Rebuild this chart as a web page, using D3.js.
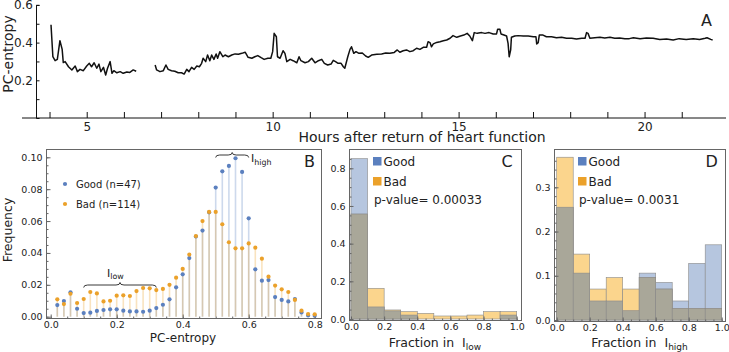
<!DOCTYPE html>
<html>
<head>
<meta charset="utf-8">
<script src="https://cdn.jsdelivr.net/npm/d3@7"></script>
<style>
  body { margin: 0; background: #fff; }
  text { font-family: "DejaVu Sans", sans-serif; fill: #222; }
</style>
</head>
<body>
<svg id="chart" width="729" height="352"></svg>
<script>

// ---- panel A : PC-entropy over time (null = gap in recording)
var hoursA = [4.04,4.09,4.15,4.21,4.28,4.34,4.37,4.42,4.51,4.60,4.69,4.75,4.82,4.91,5.00,5.07,5.13,5.20,5.27,5.33,
  5.38,5.45,5.51,5.56,5.63,5.68,5.73,5.81,5.90,5.98,6.08,6.16,6.25,6.33,6.55,
  6.84,6.88,6.97,7.06,7.13,7.19,7.28,7.37,7.46,7.55,7.62,7.69,7.75,7.82,7.89,7.96,8.03,8.09,8.13,8.20,8.25,8.31,
  8.36,8.42,8.48,8.52,8.58,8.66,8.72,8.81,8.90,8.99,9.08,9.17,9.26,9.34,9.44,9.52,9.60,9.69,9.77,9.87,9.95,
  10.00,10.04,10.10,10.13,10.20,10.28,10.33,10.38,10.47,10.55,10.65,10.71,10.76,10.87,10.96,11.05,11.14,11.23,
  11.32,11.39,11.48,11.57,11.63,11.69,11.76,11.84,11.90,11.94,12.02,12.08,12.12,12.18,12.24,12.32,12.41,12.50,
  12.57,12.66,12.80,12.93,13.04,13.15,13.27,13.35,13.42,13.51,13.60,13.69,13.78,13.87,13.96,14.05,14.14,14.18,
  14.23,14.27,14.32,14.41,14.50,14.59,14.68,14.77,14.85,14.95,15.05,15.14,15.23,15.30,15.37,15.42,15.50,15.62,
  15.71,15.82,15.93,16.02,16.05,16.11,16.14,16.22,16.29,16.33,16.36,16.40,16.42,16.51,16.60,16.74,16.87,17.01,
  17.08,17.10,17.14,17.17,17.27,17.36,17.50,17.63,17.77,17.90,18.04,18.17,18.31,18.40,18.44,18.48,18.53,18.66,
  18.80,18.93,19.07,19.20,19.33,19.47,19.59,19.70,19.88,20.05,20.23,20.41,20.59,20.77,20.93,21.12,21.31,21.48,
  21.63,21.68,21.78,21.83];
var entropyA = [0.495,0.325,0.304,0.311,0.410,0.364,0.294,0.299,0.272,0.255,0.276,0.246,0.258,0.251,0.276,0.290,0.272,0.293,0.264,0.286,
  0.246,0.269,0.228,0.264,0.299,0.237,0.251,0.240,0.246,0.237,0.244,0.242,0.255,0.248,null,
  0.281,0.255,0.246,0.251,0.281,0.258,0.251,0.248,0.240,0.240,0.233,0.258,0.246,0.269,0.258,0.276,0.272,0.290,0.317,0.299,0.334,0.304,
  0.334,0.311,0.340,0.317,0.352,0.325,0.334,0.325,0.334,0.340,0.338,0.343,0.349,0.322,0.317,0.325,0.331,0.320,0.311,0.317,0.317,
  0.352,0.449,0.431,0.325,0.317,0.357,0.343,0.299,0.311,0.304,0.293,0.325,0.304,0.293,0.299,0.317,0.293,0.304,
  0.311,0.290,0.281,0.286,0.306,0.299,0.290,0.290,0.272,0.264,0.325,0.364,0.378,0.343,0.352,0.343,0.345,0.329,
  0.322,0.334,0.338,0.340,0.345,0.343,0.348,0.361,0.349,0.357,0.361,0.352,0.357,0.370,0.364,0.375,0.375,0.405,
  0.400,0.378,0.393,0.401,0.405,0.410,0.414,0.423,0.437,0.428,0.435,0.440,0.449,0.435,0.410,0.453,0.449,0.453,
  0.449,0.453,0.446,0.446,0.471,0.471,0.446,0.440,0.435,0.396,0.325,0.361,0.428,0.435,0.437,0.435,0.435,0.431,
  0.431,0.393,0.400,0.440,0.440,0.431,0.431,0.426,0.428,0.423,0.423,0.419,0.423,0.423,0.453,0.449,0.423,0.426,
  0.428,0.425,0.428,0.423,0.425,0.421,0.421,0.426,0.421,0.425,0.423,0.417,0.419,0.414,0.421,0.417,0.421,0.417,
  0.423,0.426,0.417,0.414];
var hourTicks = [4,5,6,7,8,9,10,11,12,13,14,15,16,17,18,19,20,21];
var hourLabels = [5,10,15,20];
var entropyTicks = [0.1,0.2,0.3,0.4,0.5,0.6];
var entropyLabels = [0.2,0.4,0.6];

// ---- panel B : frequency of PC-entropy values
var entropyBins = [0.02,0.04,0.06,0.08,0.10,0.12,0.14,0.16,0.18,0.20,0.22,0.24,0.26,0.28,0.30,0.32,0.34,0.36,0.38,0.40,
  0.42,0.44,0.46,0.48,0.50,0.52,0.54,0.56,0.58,0.60,0.62,0.64,0.66,0.68,0.70,0.72,0.74,0.76,0.78,0.80];
var goodFreq = [0.0073,0.0098,0.0153,0.0050,0.0023,0.0025,0.0036,0.0042,0.0046,0.0046,0.0038,0.0033,0.0033,0.0031,0.0038,0.0054,
  0.0075,0.0109,0.0184,0.0266,0.0368,0.0503,0.0540,0.0655,0.0810,0.0912,0.0946,0.0994,0.0908,0.0617,0.0297,0.0226,
  0.0230,0.0123,0.0105,0.0096,0.0111,0.0027,0.0008,0.0006];
var badFreq = [0.0109,0.0079,0.0144,0.0086,0.0111,0.0155,0.0146,0.0096,0.0100,0.0132,0.0134,0.0130,0.0161,0.0180,0.0178,0.0167,
  0.0174,0.0200,0.0245,0.0300,0.0390,0.0506,0.0600,0.0657,0.0657,0.0580,0.0467,0.0429,0.0429,0.0460,0.0433,0.0364,
  0.0251,0.0195,0.0172,0.0155,0.0105,0.0038,0.0017,0.0015];
var seriesNames = ["Good (n=47)", "Bad (n=114)"];

// ---- panels C, D : histograms of fraction of time in I_low / I_high
var fractionBins = [0.0,0.1,0.2,0.3,0.4,0.5,0.6,0.7,0.8,0.9];
var goodLow  = [0.851,0.064,0.043,0.021,0,0,0,0,0,0.021];
var badLow   = [0.557,0.163,0.048,0.039,0.030,0.016,0.016,0.021,0.039,0.039];
var goodHigh = [0.255,0.106,0.043,0.043,0.021,0.106,0.085,0.043,0.128,0.170];
var badHigh  = [0.368,0.149,0.070,0.096,0.070,0.096,0.070,0.026,0.026,0.026];

var blue = "#5b80bf", orange = "#eba12a";
var svg = d3.select("#chart");

// =================== panel A
var xA = d3.scaleLinear().domain([3.26, 22.19]).range([22, 726]);
var yA = d3.scaleLinear().domain([0, 0.6]).range([118, 4.9]);
var gA = svg.append("g");

gA.append("g")
  .attr("transform", "translate(0,118)")
  .call(d3.axisBottom(xA).tickValues(hourTicks).tickSize(-6).tickPadding(4)
    .tickFormat(d => hourLabels.includes(d) ? d : ""))
  .call(g => g.selectAll("text").style("font-size", "12px").style("font-family", "DejaVu Sans"))
  .call(g => g.selectAll("line,path").attr("stroke", "#111"));
gA.select("path.domain").attr("d", "M22,0H726");

gA.append("g")
  .attr("transform", "translate(36,0)")
  .call(d3.axisLeft(yA).tickValues(entropyTicks).tickSize(-3.5).tickPadding(3)
    .tickFormat(d => entropyLabels.some(v => Math.abs(v - d) < 1e-9) ? d3.format(".1f")(d) : ""))
  .call(g => g.selectAll("text").style("font-size", "12px").style("font-family", "DejaVu Sans"))
  .call(g => g.selectAll("line,path").attr("stroke", "#111"));

var lineA = d3.line()
  .defined(d => d[1] !== null)
  .x(d => xA(d[0]))
  .y(d => yA(d[1]));
gA.append("path")
  .datum(hoursA.map((h, i) => [h, entropyA[i]]))
  .attr("d", lineA)
  .attr("fill", "none")
  .attr("stroke", "#111")
  .attr("stroke-width", 1.5)
  .attr("stroke-linejoin", "round");

gA.append("text").attr("x", 422).attr("y", 142).attr("text-anchor", "middle")
  .style("font-size", "14px").text("Hours after return of heart function");
gA.append("text").attr("transform", "translate(12.5,54) rotate(-90)").attr("text-anchor", "middle")
  .style("font-size", "14px").text("PC-entropy");
gA.append("text").attr("x", 701).attr("y", 26).style("font-size", "16px").text("A");

// =================== helpers for framed panels
function frame(x0, y0, x1, y1) {
  svg.append("rect").attr("x", x0 + 0.5).attr("y", y0 + 0.5)
    .attr("width", x1 - x0).attr("height", y1 - y0)
    .attr("fill", "none").attr("stroke", "#666").attr("stroke-width", 1);
}

function frameAxes(xs, ys, x0, y0, x1, y1, xt, yt, xfmt, yfmt, xminor, yminor) {
  var g = svg.append("g");
  g.append("g").attr("transform", `translate(0,${y1 + 0.5})`)
    .call(d3.axisBottom(xs).tickValues(xminor).tickSize(-2).tickFormat(""));
  g.append("g").attr("transform", `translate(${x0 + 0.5},0)`)
    .call(d3.axisLeft(ys).tickValues(yminor).tickSize(-2).tickFormat(""));
  g.append("g").attr("transform", `translate(0,${y1 + 0.5})`)
    .call(d3.axisBottom(xs).tickValues(xt).tickSize(-4).tickPadding(3).tickFormat(xfmt));
  g.append("g").attr("transform", `translate(${x0 + 0.5},0)`)
    .call(d3.axisLeft(ys).tickValues(yt).tickSize(-4).tickPadding(4).tickFormat(yfmt));
  g.selectAll("path.domain").remove();
  g.selectAll("line").attr("stroke", "#666");
  g.selectAll("text").style("font-size", "9.5px").style("font-family", "DejaVu Sans").attr("fill", "#222");
}

function brace(x1, x2, yb) {
  var xm = (x1 + x2) / 2, ym = yb - 2.5, yt = yb - 5;
  return `M${x1},${yb} Q${x1},${ym} ${x1 + 4},${ym} L${xm - 4},${ym} Q${xm},${ym} ${xm},${yt} ` +
         `Q${xm},${ym} ${xm + 4},${ym} L${x2 - 4},${ym} Q${x2},${ym} ${x2},${yb}`;
}

function subLabel(sel, x, y, main, sub, size, anchor) {
  var t = sel.append("text").attr("x", x).attr("y", y).attr("text-anchor", anchor || "start")
    .style("font-size", size + "px").style("white-space", "pre");
  t.append("tspan").text(main);
  t.append("tspan").attr("dy", size * 0.25).style("font-size", (size * 0.72) + "px").text(sub);
  return t;
}

// =================== panel B
var xB = d3.scaleLinear().domain([0, 0.8]).range([50.7, 314.7]);
var yB = d3.scaleLinear().domain([0, 0.1]).range([316.7, 157.3]);
frame(46, 149, 321, 318);
frameAxes(xB, yB, 46, 149, 321, 318,
  [0, 0.2, 0.4, 0.6, 0.8], [0, 0.02, 0.04, 0.06, 0.08, 0.10],
  d3.format(".1f"), d3.format(".2f"),
  d3.range(0, 0.81, 0.05), d3.range(0, 0.101, 0.005));

var gB = svg.append("g");
gB.selectAll("line.good").data(entropyBins).join("line")
  .attr("x1", d => xB(d)).attr("x2", d => xB(d))
  .attr("y1", yB(0)).attr("y2", (d, i) => yB(goodFreq[i]))
  .attr("stroke", blue).attr("stroke-opacity", 0.3).attr("stroke-width", 1.6);
gB.selectAll("line.bad").data(entropyBins).join("line")
  .attr("x1", d => xB(d)).attr("x2", d => xB(d))
  .attr("y1", yB(0)).attr("y2", (d, i) => yB(badFreq[i]))
  .attr("stroke", orange).attr("stroke-opacity", 0.3).attr("stroke-width", 1.6);
gB.selectAll("circle.good").data(entropyBins).join("circle")
  .attr("cx", d => xB(d)).attr("cy", (d, i) => yB(goodFreq[i])).attr("r", 2.1).attr("fill", blue);
gB.selectAll("circle.bad").data(entropyBins).join("circle")
  .attr("cx", d => xB(d)).attr("cy", (d, i) => yB(badFreq[i])).attr("r", 2.1).attr("fill", orange);

// legend
[blue, orange].forEach(function (c, i) {
  gB.append("circle").attr("cx", 65).attr("cy", 184 + i * 20).attr("r", 2.1).attr("fill", c);
  gB.append("text").attr("x", 76).attr("y", 184 + i * 20).attr("dy", "0.35em")
    .style("font-size", "10px").text(seriesNames[i]);
});

// I_low / I_high braces
gB.append("path").attr("d", brace(xB(0.10), xB(0.32), 287.5))
  .attr("fill", "none").attr("stroke", "#222").attr("stroke-width", 0.9);
subLabel(gB, 107, 276.5, "I", "low", 11);
gB.append("path").attr("d", brace(xB(0.50), xB(0.60), 157.5))
  .attr("fill", "none").attr("stroke", "#222").attr("stroke-width", 0.9);
subLabel(gB, 251, 162, "I", "high", 11);

gB.append("text").attr("x", 304).attr("y", 166.5).style("font-size", "16px").text("B");
gB.append("text").attr("x", 183).attr("y", 342).attr("text-anchor", "middle")
  .style("font-size", "12px").text("PC-entropy");
gB.append("text").attr("transform", "translate(11.5,230) rotate(-90)").attr("text-anchor", "middle")
  .style("font-size", "12.5px").text("Frequency");

// =================== panels C and D
function histPanel(good, bad, xs, ys, box, yTicks, yMinor, letter, sub, pval) {
  frame(box[0], box[1], box[2], box[3]);
  var g = svg.append("g");
  var w = xs(0.1) - xs(0);
  var layers = [
    { vals: good, fill: "#b6c6df" },
    { vals: bad, fill: "#fbd58d" },
    { vals: good.map((v, i) => Math.min(v, bad[i])), fill: "#a9a799" }
  ];
  layers.forEach(function (L) {
    g.selectAll(null).data(fractionBins).join("rect")
      .attr("x", d => xs(d)).attr("width", w)
      .attr("y", (d, i) => ys(L.vals[i])).attr("height", (d, i) => ys(0) - ys(L.vals[i]))
      .attr("fill", L.fill)
      .attr("stroke", "#8a8a8a").attr("stroke-width", 0.6);
  });
  frameAxes(xs, ys, box[0], box[1], box[2], box[3],
    [0, 0.2, 0.4, 0.6, 0.8, 1.0], yTicks, d3.format(".1f"), d3.format(".1f"),
    d3.range(0, 1.01, 0.05), yMinor);

  var lx = box[0] + 24;
  [[blue, "Good"], [orange, "Bad"]].forEach(function (e, i) {
    g.append("rect").attr("x", lx).attr("y", 157 + i * 20).attr("width", 8.5).attr("height", 8.5).attr("fill", e[0]);
    g.append("text").attr("x", lx + 10.5).attr("y", 161.5 + i * 20).attr("dy", "0.35em")
      .style("font-size", "12px").text(e[1]);
  });
  g.append("text").attr("x", lx + 1).attr("y", 203.5).style("font-size", "12px").text("p-value= " + pval);
  g.append("text").attr("x", box[2] - 19.5).attr("y", 167).style("font-size", "16px").text(letter);
  subLabel(g, (box[0] + box[2]) / 2, 346.5, "Fraction in  I", sub, 12.5, "middle");
}

var xC = d3.scaleLinear().domain([0, 1]).range([351, 516.7]);
var yC = d3.scaleLinear().domain([0, 0.8]).range([319, 168.3]);
histPanel(goodLow, badLow, xC, yC, [349, 149, 521, 320],
  [0, 0.2, 0.4, 0.6, 0.8], d3.range(0, 0.86, 0.05), "C", "low", "0.00033");

var xD = d3.scaleLinear().domain([0, 1]).range([556.7, 721.7]);
var yD = d3.scaleLinear().domain([0, 0.3]).range([320, 187.3]);
histPanel(goodHigh, badHigh, xD, yD, [554, 149, 725, 321],
  [0, 0.1, 0.2, 0.3], d3.range(0, 0.38, 0.02), "D", "high", "0.0031");

</script>
</body>
</html>
